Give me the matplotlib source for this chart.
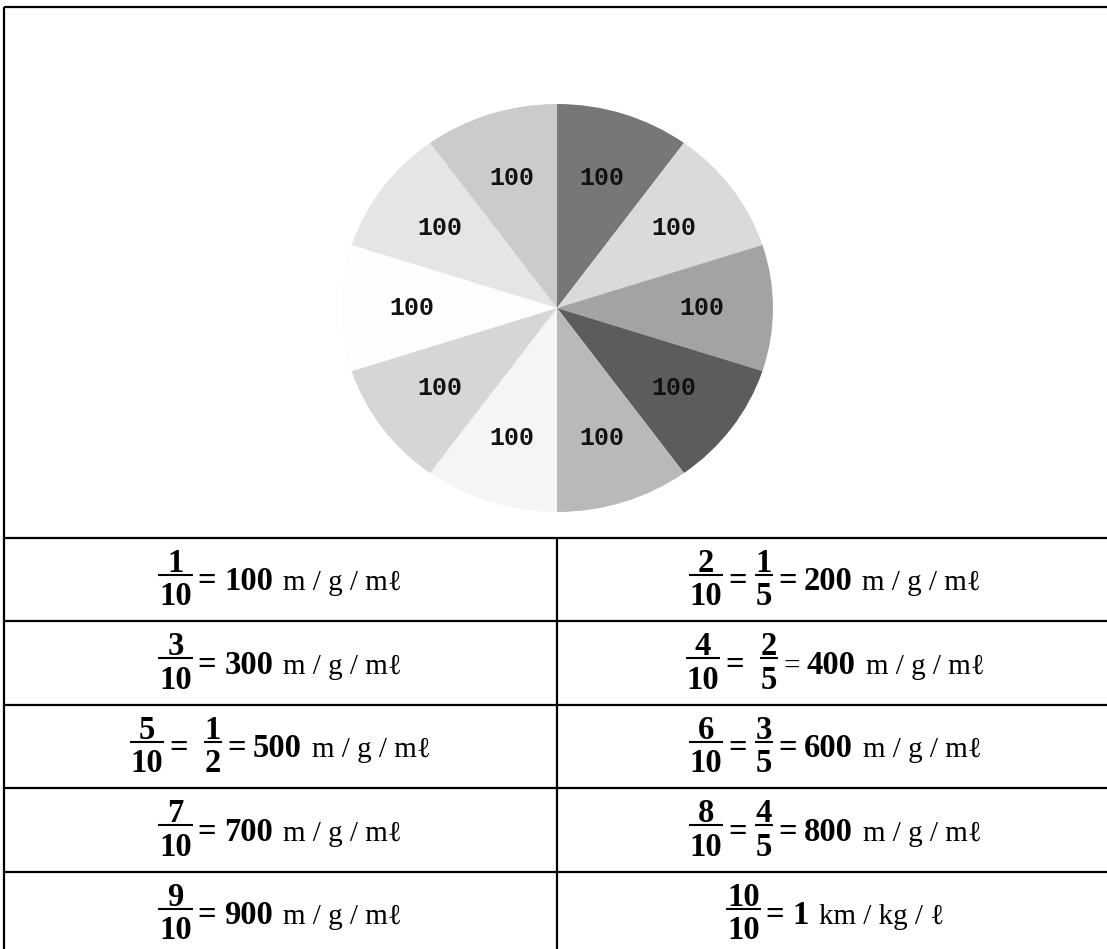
import matplotlib
matplotlib.use('Agg')
import matplotlib.pyplot as plt

# pie: ten equal parts, clockwise from the top
slice_values = [100, 100, 100, 100, 100, 100, 100, 100, 100, 100]
slice_colors = ['#777777', '#dadada', '#a3a3a3', '#5c5c5c', '#b9b9b9',
                '#f5f5f5', '#d6d6d6', '#fdfdfd', '#e5e5e5', '#cbcbcb']

# table: n/10 = (simplified) = amount unit
tenths = [1, 2, 3, 4, 5, 6, 7, 8, 9, 10]
simplified = [None, (1, 5), None, (2, 5), (1, 2), (3, 5), None, (4, 5), None, None]
amounts = ['100', '200', '300', '400', '500', '600', '700', '800', '900', '1']
units = ['m / g / mℓ', 'm / g / mℓ', 'm / g / mℓ', 'm / g / mℓ', 'm / g / mℓ',
         'm / g / mℓ', 'm / g / mℓ', 'm / g / mℓ', 'm / g / mℓ', 'km / kg / ℓ']
wide_gap = [False, False, False, True, True, False, False, False, False, False]

W, H = 1107, 949
fig = plt.figure(figsize=(W / 100, H / 100), dpi=100)
ax = fig.add_axes([0, 0, 1, 1])
ax.set_xlim(0, W)
ax.set_ylim(H, 0)
ax.axis('off')

# pie (slightly squashed like the original)
pax = fig.add_axes([341 / W, (H - 512) / H, 432 / W, 408 / H])
pax.pie(slice_values, colors=slice_colors, startangle=90, counterclock=False,
        autopct=lambda p: f'{p * sum(slice_values) / 100:.0f}', pctdistance=0.67,
        wedgeprops=dict(linewidth=0),
        textprops=dict(family='Liberation Mono', weight='bold', size=18, color='#111111'))
pax.set_aspect('auto')
pax.set_xlim(-1, 1)
pax.set_ylim(-1, 1)

# frame and table lines
lw = 1.6
row_top = 537.7
row_h = 83.5
mid_x = 557
ax.plot([3.5, W], [7, 7], color='black', lw=lw, solid_capstyle='butt')
ax.plot([3.5, 3.5], [7, H], color='black', lw=lw, solid_capstyle='butt')
for k in range(5):
    y = row_top + k * row_h
    ax.plot([3.5, W], [y, y], color='black', lw=lw, solid_capstyle='butt')
ax.plot([mid_x, mid_x], [row_top, H], color='black', lw=lw, solid_capstyle='butt')

renderer = fig.canvas.get_renderer()
SERIF = ['Liberation Serif', 'DejaVu Serif']
FS_B = 23.5
FS_R = 21


def width_of(t):
    return t.get_window_extent(renderer).width


def put(x, y, s, bold):
    return ax.text(x, y, s, family=SERIF, size=FS_B if bold else FS_R,
                   weight='bold' if bold else 'normal', ha='left', va='baseline')


def build_cell(cx, top, pieces):
    # first pass: make artists and measure
    items = []
    total = 0
    for kind, val, gap in pieces:
        if kind == 'frac':
            tn = put(0, top + 34, str(val[0]), True)
            td = put(0, top + 67.5, str(val[1]), True)
            w = max(width_of(tn), width_of(td)) + 2
            items.append((kind, (tn, td), w, gap))
        else:
            t = put(0, top + 52.5, val, kind == 'b')
            w = width_of(t)
            items.append((kind, t, w, gap))
        total += w + gap
    total -= items[-1][3]
    x = cx - total / 2
    for kind, obj, w, gap in items:
        if kind == 'frac':
            tn, td = obj
            tn.set_x(x + (w - width_of(tn)) / 2)
            td.set_x(x + (w - width_of(td)) / 2)
            ax.plot([x, x + w], [top + 36.8, top + 36.8], color='black', lw=1.5,
                    solid_capstyle='butt')
        else:
            obj.set_x(x)
        x += w + gap


col_centers = [280, 835]
for i in range(len(tenths)):
    row, col = divmod(i, 2)
    top = row_top + row * row_h
    pieces = [('frac', (tenths[i], 10), 5)]
    if simplified[i] is not None:
        pieces.append(('b', '=', 16 if wide_gap[i] else 8))
        pieces.append(('frac', simplified[i], 5))
        pieces.append(('r' if wide_gap[i] and i == 3 else 'b', '=', 7))
    else:
        pieces.append(('b', '=', 8))
    pieces.append(('b', amounts[i], 10))
    pieces.append(('r', units[i], 0))
    build_cell(col_centers[col], top, pieces)

fig.savefig('out.png', dpi=100)
